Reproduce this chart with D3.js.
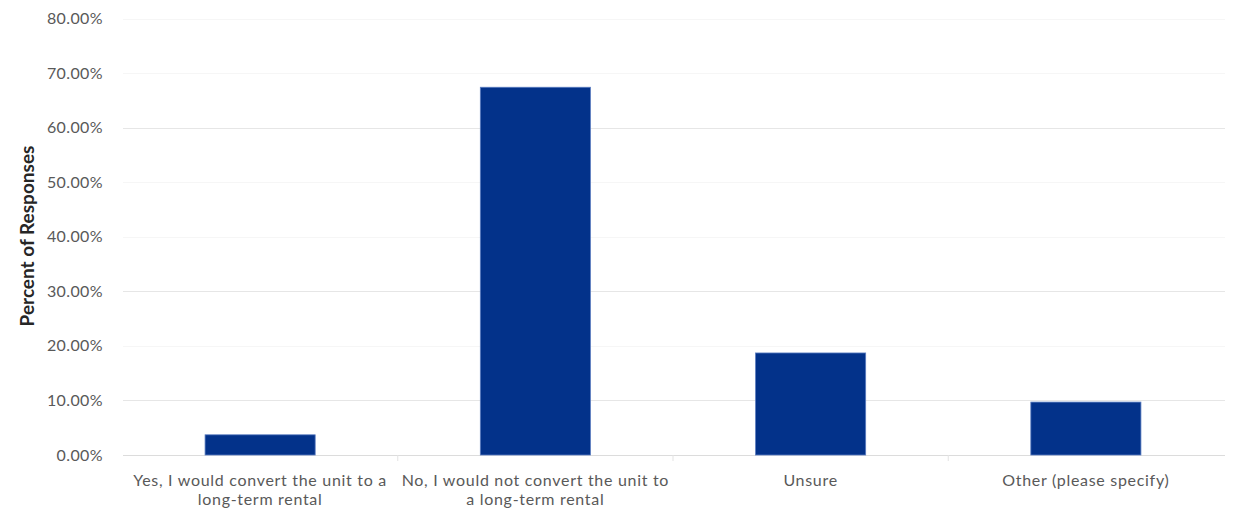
<!DOCTYPE html>
<html><head><meta charset="utf-8">
<script src="https://cdn.jsdelivr.net/npm/d3@7"></script>
<style>body{margin:0;background:#fff;} text{font-family:Lato, "Open Sans", sans-serif;}</style>
</head><body><svg id="c" width="1238" height="512"></svg>
<script>
const categories = [
  ["Yes, I would convert the unit to a", "long-term rental"],
  ["No, I would not convert the unit to", "a long-term rental"],
  ["Unsure"],
  ["Other (please specify)"]
];
const values = [0.037, 0.674, 0.187, 0.097];
const yTicks = [0, 0.1, 0.2, 0.3, 0.4, 0.5, 0.6, 0.7, 0.8];
const yTitle = "Percent of Responses";

const svg = d3.select("#c");
const x = d3.scaleBand().domain(d3.range(categories.length)).range([122.5, 1223.5]).paddingInner(0.6).paddingOuter(0.3);
const xb = d3.scaleBand().domain(d3.range(categories.length)).range([122.5, 1223.5]);
const y = d3.scaleLinear().domain([0, 0.8]).range([455, 18.5]);
const strong = new Set([0.1, 0.3, 0.6]);

// gridlines
svg.append("g").selectAll("line").data(yTicks).join("line")
  .attr("x1", 123).attr("x2", 1225)
  .attr("y1", d => Math.round(y(d)) + 0.5).attr("y2", d => Math.round(y(d)) + 0.5)
  .attr("stroke", d => d === 0 ? "#dcdcdc" : (strong.has(d) ? "#e6e6e6" : "#f6f6f6")).attr("stroke-width", 1);

// category ticks
svg.append("g").selectAll("line").data(d3.range(1, categories.length)).join("line")
  .attr("x1", i => xb(i)).attr("x2", i => xb(i))
  .attr("y1", y(0)).attr("y2", y(0) + 6)
  .attr("stroke", "#e3e3e3");

// y labels
svg.append("g").selectAll("text").data(yTicks).join("text")
  .attr("x", 103).attr("y", d => y(d)).attr("dy", "0.35em")
  .attr("text-anchor", "end").attr("font-size", 16).attr("letter-spacing", 0.4).attr("fill", "#595959")
  .text(d => d3.format(".2%")(d));

// bars
svg.append("g").selectAll("rect").data(values).join("rect")
  .attr("x", (d, i) => x(i)).attr("width", x.bandwidth())
  .attr("y", d => y(d)).attr("height", d => y(0) - y(d))
  .attr("fill", "#03328a").attr("stroke", "#5a7cc0").attr("stroke-width", 0.8);

// x labels
const xl = svg.append("g").selectAll("text").data(categories).join("text")
  .attr("x", (d, i) => xb(i) + xb.bandwidth() / 2).attr("y", 486)
  .attr("text-anchor", "middle").attr("font-size", 16).attr("letter-spacing", 0.7).attr("fill", "#595959");
xl.selectAll("tspan").data(d => d).join("tspan")
  .attr("x", function() { return this.parentNode.getAttribute("x"); })
  .attr("dy", (d, j) => j === 0 ? 0 : 19).text(d => d);

// y title
svg.append("text").attr("transform", "translate(34,236) rotate(-90)")
  .attr("text-anchor", "middle").attr("font-size", 19).attr("font-weight", "bold")
  .attr("fill", "#262626").text(yTitle);
</script></body></html>
